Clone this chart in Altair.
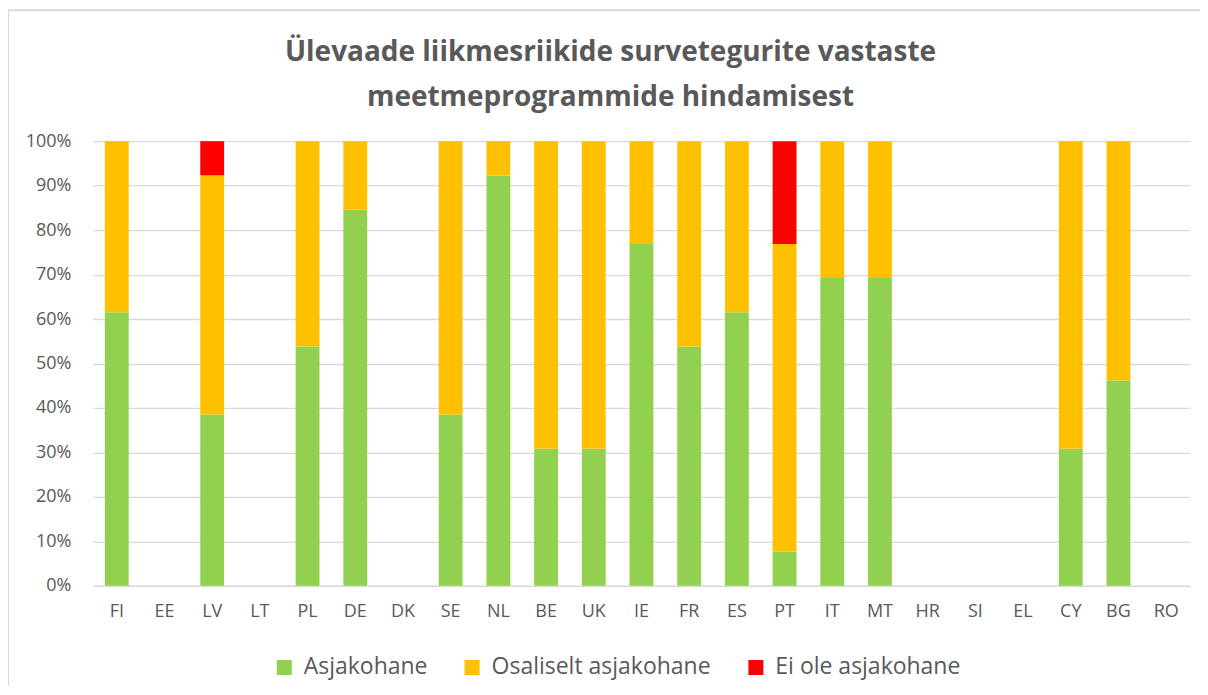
import altair as alt
import pandas as pd

countries = ["FI", "EE", "LV", "LT", "PL", "DE", "DK", "SE", "NL", "BE", "UK", "IE",
             "FR", "ES", "PT", "IT", "MT", "HR", "SI", "EL", "CY", "BG", "RO"]
asjakohane = [61.5, 0, 38.5, 0, 53.8, 84.6, 0, 38.5, 92.3, 30.8, 30.8, 76.9,
              53.8, 61.5, 7.7, 69.2, 69.2, 0, 0, 0, 30.8, 46.2, 0]
osaliselt = [38.5, 0, 53.8, 0, 46.2, 15.4, 0, 61.5, 7.7, 69.2, 69.2, 23.1,
             46.2, 38.5, 69.2, 30.8, 30.8, 0, 0, 0, 69.2, 53.8, 0]
ei_ole = [0, 0, 7.7, 0, 0, 0, 0, 0, 0, 0, 0, 0,
          0, 0, 23.1, 0, 0, 0, 0, 0, 0, 0, 0]

series = ["Asjakohane", "Osaliselt asjakohane", "Ei ole asjakohane"]
colors = ["#92D050", "#FFC000", "#FF0000"]

rows = []
for i, c in enumerate(countries):
    for k, (name, vals) in enumerate(zip(series, [asjakohane, osaliselt, ei_ole])):
        rows.append({"riik": c, "seeria": name, "väärtus": vals[i], "järjekord": k})
df = pd.DataFrame(rows)

FONT = "Open Sans"
GRAY = "#595959"

bars = alt.Chart(df).mark_bar().encode(
    x=alt.X("riik:N", sort=countries,
            scale=alt.Scale(paddingInner=0.5, paddingOuter=0.25),
            axis=alt.Axis(title=None, labelAngle=0, labelFontSize=18, labelColor=GRAY,
                          labelFont=FONT, domainColor="#d9d9d9", domainWidth=1.5,
                          ticks=False, labelPadding=17, grid=False)),
    y=alt.Y("väärtus:Q", stack="zero",
            scale=alt.Scale(domain=[0, 100], nice=False),
            axis=alt.Axis(title=None, values=list(range(0, 101, 10)),
                          labelExpr="datum.value + '%'", labelFontSize=18,
                          labelColor=GRAY, labelFont=FONT, domain=False, ticks=False,
                          labelPadding=22, gridColor="#d9d9d9", gridWidth=1.3)),
    color=alt.Color("seeria:N", sort=series,
                    scale=alt.Scale(domain=series, range=colors),
                    legend=alt.Legend(title=None, orient="none", direction="horizontal",
                                      legendX=180, legendY=515,
                                      symbolType="square", symbolSize=225,
                                      symbolStrokeWidth=0, labelLimit=0,
                                      labelFontSize=23, labelColor=GRAY, labelFont=FONT,
                                      labelOffset=8, columnPadding=33)),
    order=alt.Order("järjekord:Q", sort="ascending"),
)

frame_df = pd.DataFrame({"k": [0]})
left_border = alt.Chart(frame_df).mark_rule(color="#d9d9d9", strokeWidth=2).encode(
    x=alt.value(-85), y=alt.value(-131), y2=alt.value(570))
top_border = alt.Chart(frame_df).mark_rule(color="#d9d9d9", strokeWidth=2).encode(
    x=alt.value(-86), x2=alt.value(1120), y=alt.value(-131))

chart = alt.layer(bars, left_border, top_border).properties(
    width=1098,
    height=445,
    autosize=alt.AutoSizeParams(type="none"),
    padding={"left": 85, "top": 133, "right": 10, "bottom": 100},
    title=alt.TitleParams(
        text=["Ülevaade liikmesriikide survetegurite vastaste",
              "meetmeprogrammide hindamisest"],
        anchor="middle", dx=-31, offset=-103, fontSize=28, fontWeight="bold",
        color=GRAY, font=FONT, lineHeight=45),
).configure_view(stroke=None)

chart.save("out.html", embed_options={"renderer": "svg", "actions": False})
